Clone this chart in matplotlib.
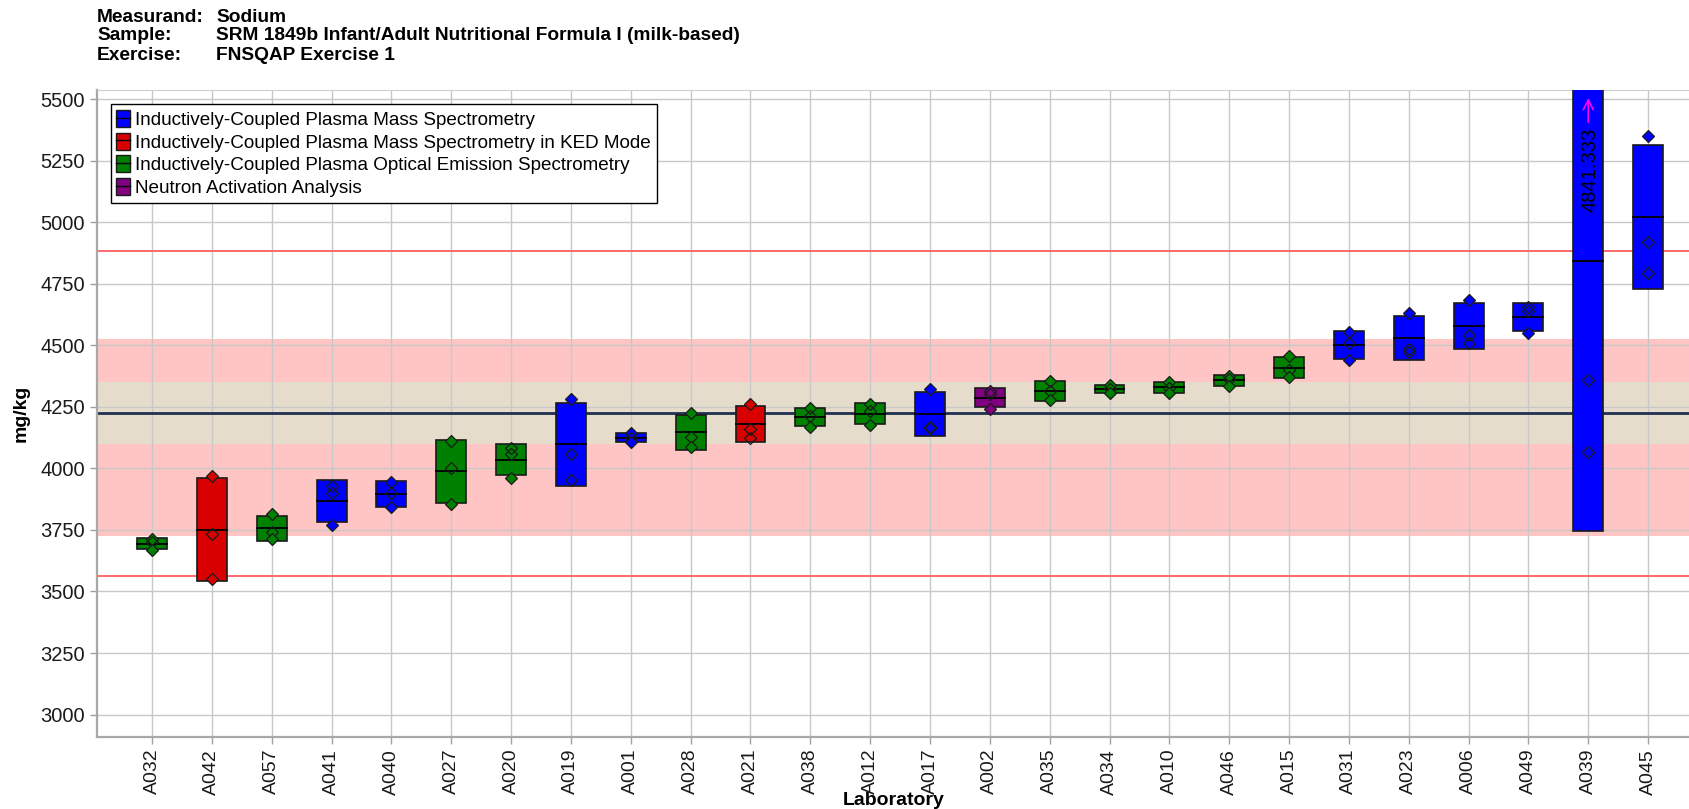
# -*- coding: utf-8 -*-
"""
Sodium in SRM 1849b - lab results by method (mean +/- sd boxes)
"""

import numpy as np
import matplotlib.pyplot as plt
from matplotlib.patches import Rectangle, Patch
from matplotlib.lines import Line2D

plt.rcParams.update({
    "font.family": ["Liberation Sans", "DejaVu Sans"],
})

# ---- data ----
labs = ["A032", "A042", "A057", "A041", "A040", "A027", "A020", "A019", "A001",
        "A028", "A021", "A038", "A012", "A017", "A002", "A035", "A034", "A010",
        "A046", "A015", "A031", "A023", "A006", "A049", "A039", "A045"]

lab_method = ["OES", "KED", "OES", "MS", "MS", "OES", "OES", "MS", "MS",
              "OES", "KED", "OES", "OES", "MS", "NAA", "OES", "OES", "OES",
              "OES", "OES", "MS", "MS", "MS", "MS", "MS", "MS"]

# three replicates per lab (mg/kg)
replicates = [
    [3712, 3702, 3670],
    [3968, 3732, 3551],
    [3814, 3743, 3713],
    [3929, 3902, 3771],
    [3945, 3902, 3842],
    [4110, 4000, 3854],
    [4083, 4059, 3963],
    [4283, 4060, 3952],
    [4145, 4122, 4109],
    [4226, 4129, 4085],
    [4263, 4159, 4122],
    [4245, 4213, 4170],
    [4260, 4232, 4175],
    [4324, 4170, 4166],
    [4314, 4303, 4243],
    [4354, 4314, 4276],
    [4340, 4324, 4305],
    [4350, 4328, 4308],
    [4375, 4364, 4333],
    [4458, 4398, 4372],
    [4555, 4510, 4439],
    [4632, 4483, 4472],
    [4685, 4543, 4510],
    [4654, 4640, 4548],
    [6096, 4360, 4068],
    [5349, 4918, 4794],
]

method_names = {
    "MS": "Inductively-Coupled Plasma Mass Spectrometry",
    "KED": "Inductively-Coupled Plasma Mass Spectrometry in KED Mode",
    "OES": "Inductively-Coupled Plasma Optical Emission Spectrometry",
    "NAA": "Neutron Activation Analysis",
}
method_order = ["MS", "KED", "OES", "NAA"]

consensus = 4224
tan_band = (4098, 4349)
pink_band = (3724, 4525)
limits = (3564, 4881)

header = [("Measurand:", "Sodium"),
          ("Sample:", "SRM 1849b Infant/Adult Nutritional Formula I (milk-based)"),
          ("Exercise:", "FNSQAP Exercise 1")]

# ---- styling ----
COLORS = {"MS": "#0000ff", "KED": "#d80000", "OES": "#008000", "NAA": "#800080"}
YLIM = (2909, 5539)
BOX_W = 0.5


def main() -> None:
    fig = plt.figure(figsize=(16.9, 8.09), dpi=100)
    ax = fig.add_axes([97 / 1690, 1 - 737 / 809, 1 - 97 / 1690, (737 - 89.5) / 809])

    x = np.arange(len(labs))

    ax.axhspan(*pink_band, color="#ffc5c5", lw=0, zorder=0.1)
    ax.axhspan(*tan_band, color="#e6dccb", lw=0, zorder=0.2)
    ax.set_axisbelow(True)
    ax.grid(True, color="#c8c8c8", lw=1.0)

    for v in limits:
        ax.axhline(v, color="#ff6a6a", lw=1.4, zorder=1)
    ax.axhline(consensus, color="#1f3050", lw=2.0, zorder=1.2)

    for i, (vals, m) in enumerate(zip(replicates, lab_method)):
        vals = np.asarray(vals, dtype=float)
        mean = vals.mean()
        sd = vals.std(ddof=1)
        lo, hi = mean - sd, mean + sd
        col = COLORS[m]
        ax.add_patch(Rectangle((i - BOX_W / 2, lo), BOX_W, hi - lo, facecolor=col,
                               edgecolor="#1a1a1a", lw=1.2, zorder=3))
        ax.plot([i - BOX_W / 2, i + BOX_W / 2], [mean, mean], color="black", lw=1.3, zorder=3.5)
        for v in vals:
            filled = v >= hi - 12 or v <= lo + 12
            ax.plot(i, v, marker="D", markersize=5.8, zorder=4,
                    markerfacecolor=col if filled else "none",
                    markeredgecolor="#1a1a1a", markeredgewidth=0.9)
        if vals.max() > YLIM[1]:
            ax.annotate("", xy=(i, 5516), xytext=(i, 5395),
                        arrowprops=dict(arrowstyle="->", color="#ff00ff", lw=1.2,
                                        mutation_scale=18), zorder=5)
            ax.text(i + 0.03, 5385, f"{mean:.3f}", rotation=90, ha="center", va="top",
                    fontsize=14.5, color="black", zorder=5)

    ax.set_xlim(-0.92, 25.70)
    ax.set_ylim(*YLIM)
    ax.set_yticks(np.arange(3000, 5501, 250))
    ax.set_xticks(x)
    ax.set_xticklabels(labs, rotation=90)
    ax.tick_params(axis="both", labelsize=14, colors="#a0a0a0", labelcolor="#1a1a1a",
                   length=5, width=1)
    ax.tick_params(axis="y", labelsize=14.5)

    for side in ("left", "bottom"):
        ax.spines[side].set_color("#a8a8a8")
        ax.spines[side].set_linewidth(1.6)
    ax.spines["top"].set_color("#d0d0d0")
    ax.spines["right"].set_visible(False)

    ax.set_ylabel("mg/kg", fontsize=14, fontweight="bold", labelpad=8)
    ax.set_xlabel("Laboratory", fontsize=14, fontweight="bold", labelpad=-2)

    handles = [(Patch(facecolor=COLORS[m], edgecolor="#1a1a1a", lw=1),
                Line2D([], [], color="black", lw=1)) for m in method_order]
    leg = ax.legend(handles, [method_names[m] for m in method_order],
                    loc="upper left", bbox_to_anchor=(0.0085, 0.977), borderaxespad=0,
                    fontsize=13.6, fancybox=False, framealpha=1, edgecolor="black",
                    handlelength=0.75, handleheight=1.0, handletextpad=0.25,
                    labelspacing=0.2, borderpad=0.3)
    leg.get_frame().set_linewidth(1.0)
    leg.set_zorder(10)

    title_font = dict(fontsize=13.8, fontweight="bold",
                      family=["Liberation Sans Narrow", "Liberation Sans"])
    for k, (lab, val) in enumerate(header):
        y = 1 - (17 + 19 * k) / 809
        fig.text(97 / 1690, y, lab, va="center", ha="left", **title_font)
        fig.text(216 / 1690, y, val, va="center", ha="left", **title_font)

    fig.savefig("out.png", dpi=100)
    plt.close(fig)


if __name__ == "__main__":
    main()
